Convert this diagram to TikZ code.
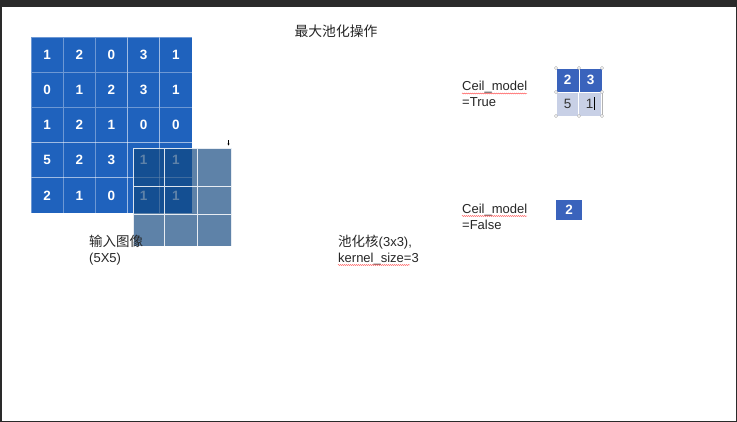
\documentclass[tikz,border=0pt]{standalone}
\usepackage{fontspec}
\setmainfont{Liberation Sans}
\newfontfamily\cjk{Noto Sans CJK SC}
\usetikzlibrary{decorations.pathmorphing,arrows.meta}
\definecolor{gridblue}{HTML}{1F62BD}
\definecolor{ovl}{HTML}{10467E}
\definecolor{tblue}{HTML}{3A63BC}
\definecolor{tlight}{HTML}{C8D0E6}
\definecolor{frame}{HTML}{2A2A2A}
\tikzset{
  incell/.style={rectangle, minimum width=32.2pt, minimum height=35.2pt, inner sep=0pt,
    fill=gridblue, draw=white, draw opacity=0.35, line width=0.8pt,
    text=white, font=\bfseries\fontsize{13.5}{15}\selectfont},
  lbl/.style={anchor=base west, inner sep=0pt, font=\fontsize{13}{15}\selectfont, text=black!85},
  clbl/.style={anchor=base west, inner sep=0pt, font=\cjk\fontsize{13.5}{15}\selectfont, text=black!85},
  wavy/.style={red!75, line width=0.45pt, decorate,
    decoration={snake, amplitude=0.5pt, segment length=2pt}},
  handle/.style={circle, draw=gray!70, fill=white, line width=0.4pt, inner sep=0pt, minimum size=3.2pt},
  tcell/.style={rectangle, minimum width=23pt, minimum height=24pt, inner sep=0pt,
    draw=white, line width=0.6pt, font=\fontsize{13.5}{15}\selectfont}
}
\begin{document}
\begin{tikzpicture}[x=1pt,y=-1pt]
\useasboundingbox (0,0) rectangle (737,422);
% window frame
\fill[white] (0,0) rectangle (737,422);
\fill[frame] (0,0) rectangle (737,7);
\draw[frame, line width=1.5pt] (0.75,7) -- (0.75,421.25) -- (736.25,421.25) -- (736.25,7);

% title
\node[anchor=base, inner sep=0pt, font=\cjk\fontsize{13.8}{15}\selectfont, text=black!85] (title) at (336,37) {最大池化操作};

% input grid 5x5
\foreach \row [count=\r from 0] in {{1,2,0,3,1},{0,1,2,3,1},{1,2,1,0,0},{5,2,3,1,1},{2,1,0,1,1}} {
  \foreach \v [count=\c from 0] in \row {
    \node[incell] (in-\r-\c) at ({31+16.1+32.2*\c},{37+17.6+35.2*\r}) {\v};
  }
}

% pooling kernel (semi transparent overlay)
\fill[ovl, fill opacity=0.67] (133.3,148.3) rectangle (231.7,246);
\node[inner sep=0pt, minimum size=0pt] (kernel) at (182.5,197.2) {};
\draw[white, line width=0.8pt, draw opacity=0.85]
  (133.3,148.3) rectangle (231.7,246)
  (164.3,148.3) -- (164.3,246)
  (197.3,148.3) -- (197.3,246)
  (133.3,186.7) -- (231.7,186.7)
  (133.3,214.3) -- (231.7,214.3);
% tiny marker
\coordinate (m1) at (228.5,140.5);
\coordinate (m2) at (228.5,145.5);
\draw[black, line width=0.6pt, -{Stealth[length=2pt,width=2.2pt]}] (m1) -- (m2);

% labels under grid
\node[clbl] (inlbl) at (89,246.5) {输入图像};
\node[lbl] (insize) at (89,262.5) {(5X5)};
\node[clbl] (klbl) at (338,246.5) {池化核\fontspec{Liberation Sans}\fontsize{13}{15}\selectfont(3x3),};
\node[lbl] (ksize) at (338,262.5) {kernel\_size=3};
\draw[wavy] (338,265) -- (410,265);

% Ceil_model = True
\node[lbl] (ct1) at (462,91) {Ceil\_model};
\node[lbl] (ct2) at (462,107) {=True};
\draw[wavy] (462,93.5) -- (527,93.5);

% 2x2 result
\draw[gray!60, line width=0.5pt] (556,68) rectangle (602,116);
\node[tcell, fill=tblue, text=white, font=\bfseries\fontsize{13.5}{15}\selectfont] (r00) at (567.5,80) {2};
\node[tcell, fill=tblue, text=white, font=\bfseries\fontsize{13.5}{15}\selectfont] (r01) at (590.5,80) {3};
\node[tcell, fill=tlight, text=black!80] (r10) at (567.5,104) {5};
\node[tcell, fill=tlight, text=black!80] (r11) at (589.5,104) {1};
\draw[black, line width=0.6pt] (594,97) -- (594,110.5);
\foreach \p [count=\i] in {(556,68),(579,68),(602,68),(556,92),(602,92),(556,116),(579,116),(602,116)} {
  \node[handle] (h\i) at \p {};
}

% Ceil_model = False
\node[lbl] (cf1) at (462,213.5) {Ceil\_model};
\node[lbl] (cf2) at (462,229.5) {=False};
\draw[wavy] (462,216) -- (527,216);
\node[rectangle, fill=tblue, minimum width=26pt, minimum height=20pt, inner sep=0pt,
  text=white, font=\bfseries\fontsize{13.5}{15}\selectfont] (f00) at (569,210) {2};
\end{tikzpicture}
\end{document}
